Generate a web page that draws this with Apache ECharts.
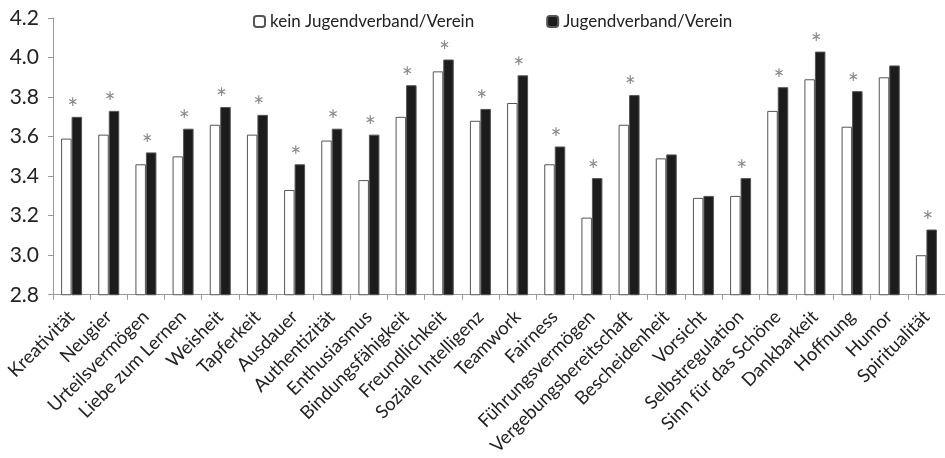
<!DOCTYPE html>
<html>
<head>
<meta charset="utf-8">
<script src="https://cdn.jsdelivr.net/npm/echarts@6/dist/echarts.min.js"></script>
<style>
  html, body { margin: 0; padding: 0; background: #fff; }
  #chart { width: 945px; height: 458px; }
</style>
</head>
<body>
<div id="chart"></div>
<script>
// Charakterstärken
const categories = ['Kreativität', 'Neugier', 'Urteilsvermögen', 'Liebe zum Lernen', 'Weisheit', 'Tapferkeit',
  'Ausdauer', 'Authentizität', 'Enthusiasmus', 'Bindungsfähigkeit', 'Freundlichkeit', 'Soziale Intelligenz',
  'Teamwork', 'Fairness', 'Führungsvermögen', 'Vergebungsbereitschaft', 'Bescheidenheit', 'Vorsicht',
  'Selbstregulation', 'Sinn für das Schöne', 'Dankbarkeit', 'Hoffnung', 'Humor', 'Spiritualität']
const keinVerein = [3.59, 3.61, 3.46, 3.50, 3.66, 3.61, 3.33, 3.58, 3.38, 3.70, 3.93, 3.68,
  3.77, 3.46, 3.19, 3.66, 3.49, 3.29, 3.30, 3.73, 3.89, 3.65, 3.90, 3.00]
const verein = [3.70, 3.73, 3.52, 3.64, 3.75, 3.71, 3.46, 3.64, 3.61, 3.86, 3.99, 3.74,
  3.91, 3.55, 3.39, 3.81, 3.51, 3.30, 3.39, 3.85, 4.03, 3.83, 3.96, 3.13]
// signifikanter Unterschied (*)
const signifikant = [1, 1, 1, 1, 1, 1, 1, 1, 1, 1, 1, 1, 1, 1, 1, 1, 0, 0, 1, 1, 1, 1, 0, 1]
const yTicks = [2.8, 4.2, 0.2] // min, max, interval

const font = 'Lato'
let myChart = echarts.init(document.getElementById('chart'))
let option = {
  animation: false,
  textStyle: { fontFamily: font },
  legend: {
    top: 8,
    left: 248,
    itemWidth: 11,
    itemHeight: 11,
    itemGap: 72,
    textStyle: { fontSize: 17, color: '#222', fontFamily: font },
    data: ['kein Jugendverband/Verein', 'Jugendverband/Verein']
  },
  grid: { left: 53, right: -3, top: 18, bottom: 162, containLabel: false },
  xAxis: {
    type: 'category',
    data: categories,
    axisLine: { lineStyle: { color: '#999', width: 1 } },
    axisTick: { show: true, length: 5, lineStyle: { color: '#999' } },
    axisLabel: { rotate: 45, interval: 0, margin: 19, fontSize: 18.5, color: '#222', fontFamily: font }
  },
  yAxis: {
    type: 'value',
    min: yTicks[0],
    max: yTicks[1],
    interval: yTicks[2],
    axisLine: { show: true, lineStyle: { color: '#999' } },
    axisTick: { show: true, length: 5, lineStyle: { color: '#999' } },
    splitLine: { show: false },
    axisLabel: { fontSize: 21, color: '#222', margin: 14, fontFamily: font, formatter: v => v.toFixed(1) }
  },
  series: [
    {
      name: 'kein Jugendverband/Verein',
      type: 'bar',
      data: keinVerein,
      barWidth: 10.5,
      barGap: '0%',
      itemStyle: { color: '#ffffff', borderColor: '#555', borderWidth: 1 }
    },
    {
      name: 'Jugendverband/Verein',
      type: 'bar',
      data: verein,
      barWidth: 10.5,
      itemStyle: { color: '#1c1c1c', borderColor: '#555', borderWidth: 1 },
      label: {
        show: true,
        position: 'top',
        distance: -6,
        offset: [-4, 0],
        fontSize: 26,
        color: '#888',
        fontFamily: font,
        formatter: p => (signifikant[p.dataIndex] ? '*' : '')
      }
    }
  ]
}
option && myChart.setOption(option)
</script>
</body>
</html>
